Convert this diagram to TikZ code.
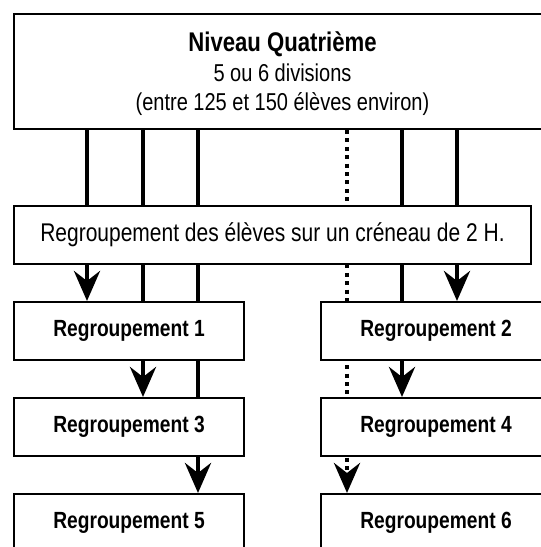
\documentclass[tikz,border=0pt]{standalone}
\usepackage{fontspec}
\setmainfont{Liberation Sans}[FakeStretch=0.82]
\usepackage{tikz}
\usetikzlibrary{arrows.meta}
\usetikzlibrary{positioning}
\pgfdeclarelayer{background}
\pgfsetlayers{background,main}
\begin{document}
\begin{tikzpicture}[
	x=0.5pt, y=-0.5pt,
	font=\fontsize{11.7}{14}\selectfont
]
\tikzset{
    mybox/.style = {rectangle, draw=black, line width=1pt, fill=white, anchor=north west, align=center, inner sep=0pt, minimum width=115pt, minimum height=29pt, font=\fontsize{11.7}{14}\selectfont\bfseries},
    myline/.style = {line width=2.3pt},
    myarrow/.style = {myline, -{Stealth[length=15pt,width=13pt,inset=5pt]}},
    mydots/.style = {myarrow, dash pattern=on 2pt off 2.2pt}
}
\useasboundingbox (0,0) rectangle (541,547);
\clip (0,0) rectangle (541,547);
\node[mybox,minimum width=268.5pt,minimum height=57.5pt,text depth=0pt,font=\fontsize{12.2}{14.75}\selectfont] (niveau) at (13,13)
  {{\fontsize{13.5}{14.75}\selectfont\bfseries Niveau Quatrième}\\ 5 ou 6 divisions\\ (entre 125 et 150 élèves environ)};
\node[mybox,minimum width=258.5pt,font=\fontsize{12.8}{15}\selectfont] (creneau) at (13,205) {Regroupement des élèves sur un créneau de 2 H.};
\node[mybox] (g1) at (13,301) {Regroupement 1};
\node[mybox] (g2) at (320,301) {Regroupement 2};
\node[mybox] (g3) at (13,397) {Regroupement 3};
\node[mybox] (g4) at (320,397) {Regroupement 4};
\node[mybox] (g5) at (13,493) {Regroupement 5};
\node[mybox] (g6) at (320,493) {Regroupement 6};
\coordinate (d1) at (87,0);
\coordinate (d2) at (143,0);
\coordinate (d3) at (198,0);
\coordinate (d4) at (347,0);
\coordinate (d5) at (402,0);
\coordinate (d6) at (457,0);
\begin{pgfonlayer}{background}
\draw[myarrow] (niveau.south -| d1) -- (g1.north -| d1);
\draw[myarrow] (niveau.south -| d2) -- (g3.north -| d2);
\draw[myarrow] (niveau.south -| d3) -- (g5.north -| d3);
\draw[mydots] (niveau.south -| d4) -- (g6.north -| d4);
\draw[myarrow] (niveau.south -| d5) -- (g4.north -| d5);
\draw[myarrow] (niveau.south -| d6) -- (g2.north -| d6);
\end{pgfonlayer}
\end{tikzpicture}
\end{document}
